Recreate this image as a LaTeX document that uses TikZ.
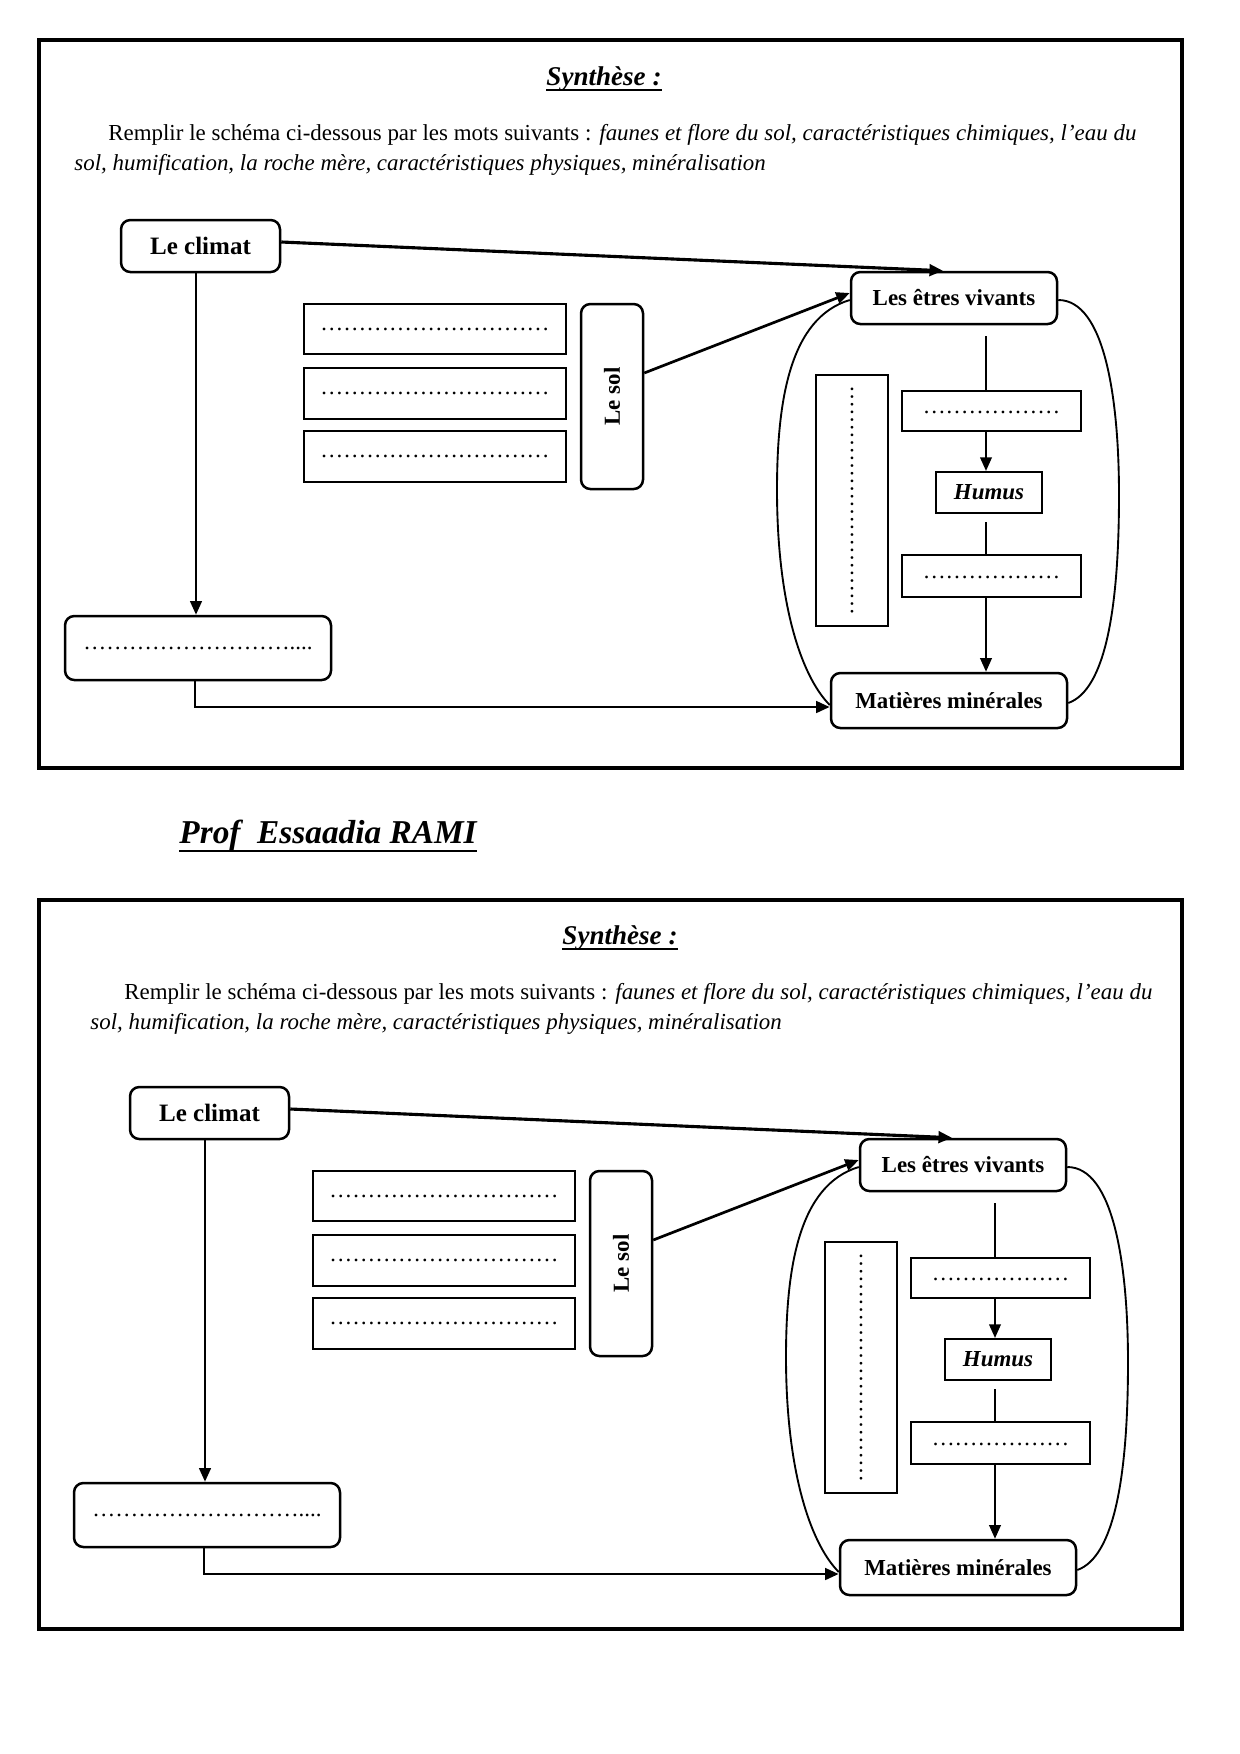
\documentclass[tikz,border=0pt]{standalone}
\usepackage{fontspec}
\setmainfont{Liberation Serif}
\usetikzlibrary{arrows.meta}
\newcommand{\myel}{…}
\newcommand{\dotsA}{\myel\myel\myel\myel\myel\myel\myel\myel\myel\myel}
\newcommand{\dotsB}{\myel\myel\myel\myel\myel\myel}
\newcommand{\dotsC}{\myel\myel\myel\myel\myel\myel\myel\myel\myel....}
\newcommand{\soildiagram}{%
  \node[rbox, wh={159}{52}, font=\bfseries\fontsize{12}{14}\selectfont] (climat) at (200.5,246) {Le climat};
  \node[sbox, wh={262}{50}] (d1) at (435,329) {\raisebox{-1.5pt}{\dotsA}};
  \node[sbox, wh={262}{51}] (d2) at (435,393.5) {\raisebox{-1.5pt}{\dotsA}};
  \node[sbox, wh={262}{51}] (d3) at (435,456.5) {\raisebox{-1.5pt}{\dotsA}};
  \node[rbox, wh={62}{185}] (sol) at (612,396.5) {\rotatebox{90}{\bfseries Le sol}};
  \node[rbox, wh={206}{52}, font=\bfseries\fontsize{11}{13}\selectfont] (etres) at (954,298) {Les êtres vivants};
  \node[sbox, wh={72}{251}] (vbox) at (852,500.5) {\rotatebox{90}{\dotsA}};
  \node[sbox, wh={179}{40}] (r1) at (991.5,411) {\raisebox{-3pt}{\dotsB}};
  \node[sbox, wh={106}{41}, font=\bfseries\itshape\fontsize{11}{13}\selectfont] (humus) at (989,492.5) {Humus};
  \node[sbox, wh={179}{42}] (r2) at (991.5,576) {\raisebox{-3pt}{\dotsB}};
  \node[rbox, wh={236}{55}, font=\bfseries\fontsize{11}{13}\selectfont] (mat) at (949,700.5) {Matières minérales};
  \node[rbox, wh={266}{64}] (bl) at (198,648) {\dotsC};
  % connectors
  \draw[arr, line width=1.5pt] (climat.east |- 0,242) -- (etres.north -| 943,0);
  \draw[arr, line width=1.3pt] (sol.east |- 0,373) -- (etres.west |- 0,293);
  \draw[arr, line width=1.2pt] (climat.south -| 196,0) -- (bl.north -| 196,0);
  \draw[arr, line width=1.4pt] (bl.south -| 195,0) |- (mat.west |- 0,707);
  \coordinate (c0) at (986,336);
  \coordinate (c1) at (986,522);
  \draw[link] (c0) -- (c0 |- r1.north);
  \draw[arr] (r1.south -| c0) -- (humus.north -| c0);
  \draw[link] (c1) -- (c1 |- r2.north);
  \draw[arr] (r2.south -| c0) -- (mat.north -| c0);
  \draw[curve] (etres.west |- 0,300) .. controls (790,318) and (777,400) .. (777,490)
     .. controls (777,600) and (800,675) .. (mat.west |- 0,705);
  \draw[curve] (etres.east |- 0,300) .. controls (1105,300) and (1119,400) .. (1119,495)
     .. controls (1119,610) and (1105,690) .. (mat.east |- 0,703);
}
\begin{document}
\begin{tikzpicture}[x=0.48pt,y=-0.48pt,
  wh/.style 2 args={minimum width={#1*0.48pt}, minimum height={#2*0.48pt}},
  sbox/.style={draw, line width=1pt, inner sep=0pt, font=\fontsize{11}{13}\selectfont},
  rbox/.style={sbox, line width=1.2pt, rounded corners=4.5pt},
  link/.style={line width=1pt},
  arr/.style={link, -{Triangle[length=6.5pt,width=5.5pt]}},
  curve/.style={line width=0.9pt},
  frame/.style={line width=1.5pt},
  title/.style={anchor=base, inner sep=0pt, font=\bfseries\itshape\fontsize{13}{15}\selectfont},
  para/.style={anchor=base west, inner sep=0pt, text width=509.8pt, align=justify,
     font=\fontsize{11}{14.4}\selectfont}
]
\fill[white] (0,0) rectangle (1240,1754);
\useasboundingbox (0,0) rectangle (1240,1754);

% ---------- top panel ----------
\draw[frame] (39,40) rectangle (1182,768);
\node[title] (syn1) at (604,85) {Synthèse :};
\draw[line width=0.7pt] ([yshift=-2.5pt]syn1.base west) -- ([yshift=-2.5pt]syn1.base east);
\node[para] (par1) at (74,140) {\hspace*{16.3pt}Remplir le schéma ci-dessous par les mots suivants : \textit{faunes et flore du sol, caractéristiques chimiques, l’eau du\linebreak sol, humification, la roche mère, caractéristiques physiques, minéralisation}};
\begin{scope}[name prefix=t-]
  \soildiagram
\end{scope}

% ---------- author ----------
\node[anchor=base west, inner sep=0pt, font=\bfseries\itshape\fontsize{16}{19}\selectfont] (prof) at (179,843) {Prof\ \ Essaadia RAMI};
\draw[line width=1pt] ([yshift=-4pt]prof.base west) -- ([yshift=-4pt]prof.base east);

% ---------- bottom panel ----------
\draw[frame] (39,900) rectangle (1182,1629);
\node[title] (syn2) at (620,944) {Synthèse :};
\draw[line width=0.7pt] ([yshift=-2.5pt]syn2.base west) -- ([yshift=-2.5pt]syn2.base east);
\node[para] (par2) at (90,999) {\hspace*{16.3pt}Remplir le schéma ci-dessous par les mots suivants : \textit{faunes et flore du sol, caractéristiques chimiques, l’eau du\linebreak sol, humification, la roche mère, caractéristiques physiques, minéralisation}};
\begin{scope}[name prefix=b-, shift={(9,867)}]
  \soildiagram
\end{scope}
\end{tikzpicture}
\end{document}
